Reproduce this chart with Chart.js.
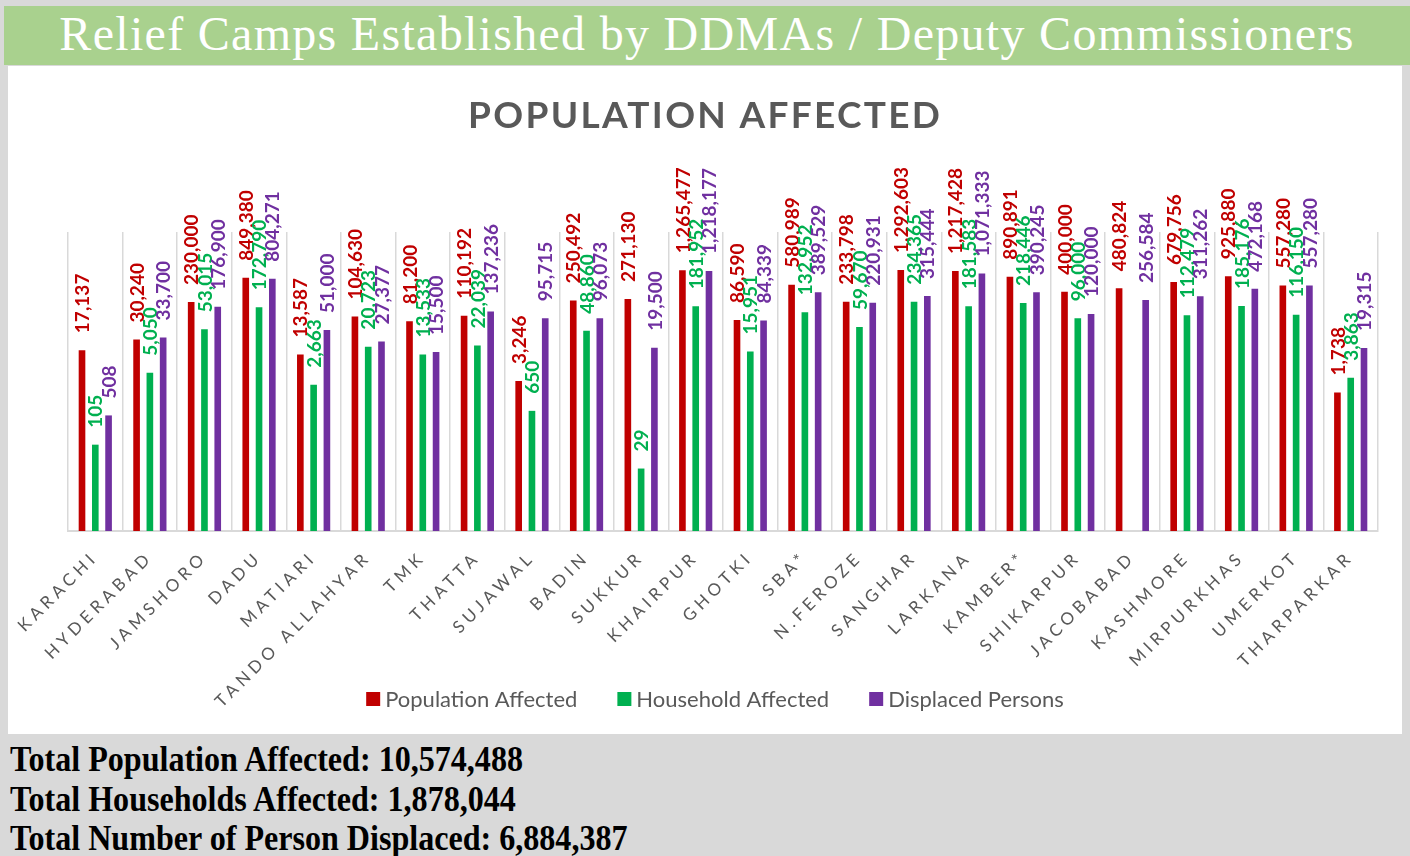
<!DOCTYPE html>
<html>
<head>
<meta charset="utf-8">
<script src="https://cdn.jsdelivr.net/npm/chart.js@4.4.1/dist/chart.umd.min.js"></script>
<style>
  html, body { margin: 0; padding: 0; }
  body { width: 1410px; height: 856px; background: #d9d9d9; position: relative; overflow: hidden; }
  #header {
    position: absolute; left: 4px; top: 6px; width: 1406px; height: 59px;
    background: #a9d18e; color: #fff; text-align: center;
    font-family: "Liberation Serif", serif; font-size: 48px; line-height: 56px;
    white-space: nowrap;
  }
  #box { position: absolute; left: 8px; top: 66px; width: 1394px; height: 668px; background: #fff; }
  #totals { position: absolute; left: 10px; top: 740px; }
  #totals div {
    font-family: "Liberation Serif", serif; font-weight: bold; font-size: 36px;
    line-height: 39.5px; white-space: nowrap; color: #000;
  }
  #totals span { display: inline-block; transform-origin: left center; }
</style>
</head>
<body>
<div id="header"><span id="headText">Relief Camps Established by DDMAs / Deputy Commissioners</span></div>
<div id="box"><canvas id="chart" width="1394" height="668"></canvas></div>
<div id="totals">
  <div><span id="t1"></span></div>
  <div><span id="t2"></span></div>
  <div><span id="t3"></span></div>
</div>
<script>
const districts = ['KARACHI', 'HYDERABAD', 'JAMSHORO', 'DADU', 'MATIARI', 'TANDO ALLAHYAR', 'TMK', 'THATTA',
  'SUJAWAL', 'BADIN', 'SUKKUR', 'KHAIRPUR', 'GHOTKI', 'SBA*', 'N.FEROZE', 'SANGHAR', 'LARKANA', 'KAMBER*',
  'SHIKARPUR', 'JACOBABAD', 'KASHMORE', 'MIRPURKHAS', 'UMERKOT', 'THARPARKAR'];

const populationAffected = [17137, 30240, 230000, 849380, 13587, 104630, 81200, 110192, 3246, 250492, 271130,
  1265477, 86590, 580989, 233798, 1292603, 1217428, 890891, 400000, 480824, 679756, 925880, 557280, 1738];

const householdAffected = [105, 5050, 53015, 172790, 2663, 20723, 13533, 22039, 650, 48860, 29, 181952, 15951,
  132952, 59670, 234365, 181583, 218446, 96000, null, 112479, 185176, 116150, 3863];

const displacedPersons = [508, 33700, 176900, 804271, 51000, 27377, 15500, 137236, 95715, 96073, 19500, 1218177,
  84339, 389529, 220931, 315444, 1071333, 390245, 120000, 256584, 311262, 472168, 557280, 19315];

const seriesNames = ['Population Affected', 'Household Affected', 'Displaced Persons'];
const seriesColors = ['#c00000', '#00b050', '#7030a0'];

const fmt = v => v.toLocaleString('en-US');
const sum = arr => arr.reduce((s, v) => s + (v || 0), 0);

// Totals under the chart
document.getElementById('t1').textContent = 'Total Population Affected: ' + fmt(sum(populationAffected));
document.getElementById('t2').textContent = 'Total Households Affected: ' + fmt(sum(householdAffected));
document.getElementById('t3').textContent = 'Total Number of Person Displaced: ' + fmt(sum(displacedPersons));
const squeeze = 513 / document.getElementById('t1').getBoundingClientRect().width;
document.querySelectorAll('#totals span').forEach(s => s.style.transform = `scaleX(${squeeze})`);

// Header text spread to its width
const head = document.getElementById('headText');
const headText = head.textContent;
head.style.letterSpacing = ((1294 - head.getBoundingClientRect().width) / (headText.length - 1)) + 'px';

// Rotated value labels above the bars, plus title and legend
const barLabels = {
  id: 'barLabels',
  beforeDraw(chart) {
    chart.ctx.letterSpacing = '4.5px';
  },
  afterDatasetsDraw(chart) {
    const ctx = chart.ctx;
    ctx.save();
    ctx.letterSpacing = '0px';
    ctx.font = 'bold 19px Lato';
    ctx.textAlign = 'left';
    ctx.textBaseline = 'middle';
    chart.data.datasets.forEach((ds, i) => {
      chart.getDatasetMeta(i).data.forEach((bar, j) => {
        const v = ds.data[j];
        if (v == null) return;
        ctx.save();
        ctx.translate(bar.x + 1, bar.y - 17);
        ctx.rotate(-Math.PI / 2);
        ctx.fillStyle = ds.backgroundColor;
        ctx.fillText(fmt(v), 0, 0);
        ctx.restore();
      });
    });
    ctx.restore();
  },
  afterDraw(chart) {
    const ctx = chart.ctx;
    ctx.save();
    ctx.letterSpacing = '0px';

    // title
    const title = 'POPULATION AFFECTED';
    ctx.font = 'bold 37px Lato';
    const w0 = ctx.measureText(title).width;
    ctx.letterSpacing = ((472 - w0) / (title.length - 1)) + 'px';
    ctx.fillStyle = '#595959';
    ctx.textAlign = 'left';
    ctx.textBaseline = 'alphabetic';
    ctx.fillText(title, 696 - 236, 62);

    // legend
    ctx.letterSpacing = '0px';
    ctx.font = '22px Lato';
    ctx.textBaseline = 'middle';
    const items = chart.data.datasets.map(ds => ({
      text: ds.label, color: ds.backgroundColor, w: 19 + ctx.measureText(ds.label).width
    }));
    const total = sum(items.map(it => it.w)) + 40 * (items.length - 1);
    let x = 707 - total / 2;
    const y = 633;
    items.forEach(it => {
      ctx.fillStyle = it.color;
      ctx.fillRect(x, y - 7, 14, 14);
      ctx.fillStyle = '#595959';
      ctx.fillText(it.text, x + 19, y + 1);
      x += it.w + 40;
    });
    ctx.restore();
    ctx.letterSpacing = '0px';
  }
};

const seriesData = [populationAffected, householdAffected, displacedPersons];

new Chart(document.getElementById('chart'), {
  type: 'bar',
  data: {
    labels: districts,
    datasets: seriesData.map((d, i) => ({
      label: seriesNames[i],
      data: d,
      backgroundColor: seriesColors[i],
      categoryPercentage: 0.73,
      barPercentage: 0.5
    }))
  },
  options: {
    responsive: false,
    animation: false,
    layout: { padding: { left: 60, right: 24, top: 166, bottom: 13 } },
    plugins: {
      legend: { display: false },
      title: { display: false },
      tooltip: { enabled: false }
    },
    scales: {
      x: {
        grid: { color: '#d9d9d9', lineWidth: 1.5, drawTicks: false },
        border: { color: '#d9d9d9', width: 2 },
        ticks: {
          color: '#595959',
          font: { family: 'Lato', size: 17 },
          minRotation: 45,
          maxRotation: 45,
          autoSkip: false,
          padding: 16
        },
        afterFit(scale) { scale.height = 190; }
      },
      y: {
        type: 'logarithmic',
        min: 1,
        max: 10000000,
        display: false
      }
    }
  },
  plugins: [barLabels]
});
</script>
</body>
</html>
